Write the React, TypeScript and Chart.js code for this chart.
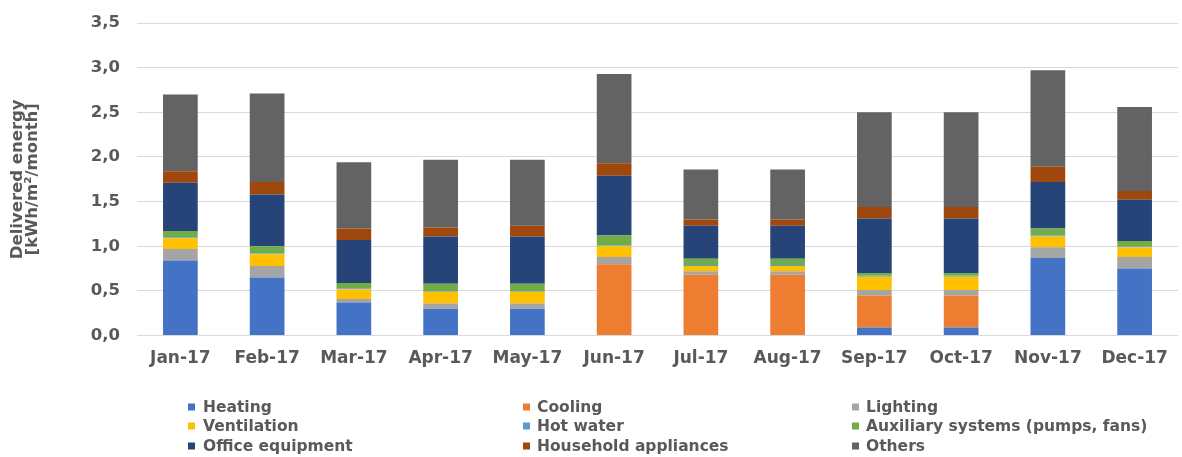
import { useEffect, useRef } from "react";
import { Chart, registerables } from "chart.js";

Chart.register(...registerables);

// Monthly delivered energy per end use, kWh/m²/month
const months = ["Jan-17", "Feb-17", "Mar-17", "Apr-17", "May-17", "Jun-17", "Jul-17", "Aug-17", "Sep-17", "Oct-17", "Nov-17", "Dec-17"];
const heating = [0.84, 0.65, 0.37, 0.3, 0.3, 0, 0, 0, 0.09, 0.09, 0.87, 0.75];
const cooling = [0, 0, 0, 0, 0, 0.8, 0.68, 0.68, 0.36, 0.36, 0, 0];
const lighting = [0.13, 0.13, 0.04, 0.06, 0.06, 0.08, 0.04, 0.04, 0.06, 0.06, 0.12, 0.13];
const ventilation = [0.12, 0.13, 0.11, 0.13, 0.13, 0.12, 0.06, 0.06, 0.15, 0.15, 0.12, 0.11];
const hotWater = [0.01, 0.01, 0.01, 0.01, 0.01, 0.01, 0.01, 0.01, 0.01, 0.01, 0.01, 0.01];
const auxiliarySystems = [0.07, 0.08, 0.06, 0.08, 0.08, 0.11, 0.07, 0.07, 0.03, 0.03, 0.08, 0.06];
const officeEquipment = [0.54, 0.58, 0.48, 0.53, 0.53, 0.67, 0.37, 0.37, 0.61, 0.61, 0.52, 0.46];
const householdAppliances = [0.13, 0.14, 0.13, 0.1, 0.12, 0.14, 0.07, 0.07, 0.13, 0.13, 0.17, 0.1];
const others = [0.86, 0.99, 0.74, 0.76, 0.74, 1.0, 0.56, 0.56, 1.06, 1.06, 1.08, 0.94];

const seriesNames = [
  "Heating",
  "Cooling",
  "Lighting",
  "Ventilation",
  "Hot water",
  "Auxiliary systems (pumps, fans)",
  "Office equipment",
  "Household appliances",
  "Others",
];
const seriesValues = [heating, cooling, lighting, ventilation, hotWater, auxiliarySystems, officeEquipment, householdAppliances, others];
const seriesColors = ["#4472C4", "#ED7D31", "#A5A5A5", "#FFC000", "#5B9BD5", "#70AD47", "#264478", "#9E480E", "#636363"];

const yAxisTitle = ["Delivered energy", "[kWh/m²/month]"];
const yMax = 3.5;
const yStep = 0.5;

const FONT_FAMILY = "'DejaVu Sans', sans-serif";
const TEXT_COLOR = "#595959";

// Legend laid out as a 3-column grid under the plot
const legendColumns = [
  { marker: 188, text: 203 },
  { marker: 523, text: 537 },
  { marker: 852, text: 866 },
];
const legendRows = [407, 426, 446];

const gridLegend = {
  id: "gridLegend",
  afterDraw(chart: Chart) {
    const ctx = chart.ctx;
    ctx.save();
    ctx.font = `bold 15.5px ${FONT_FAMILY}`;
    ctx.textBaseline = "middle";
    ctx.textAlign = "left";
    chart.data.datasets.forEach((ds, i) => {
      const col = legendColumns[i % 3];
      const y = legendRows[Math.floor(i / 3)];
      ctx.fillStyle = ds.backgroundColor as string;
      ctx.fillRect(col.marker, y - 3.5, 7, 7);
      ctx.fillStyle = TEXT_COLOR;
      ctx.fillText(ds.label as string, col.text, y + 0.5);
    });
    ctx.restore();
  },
};

export default function App() {
  const canvasRef = useRef<HTMLCanvasElement | null>(null);

  useEffect(() => {
    document.body.style.margin = "0";
    const canvas = canvasRef.current;
    if (!canvas) return;

    const chart = new Chart(canvas, {
      type: "bar",
      data: {
        labels: months,
        datasets: seriesNames.map((name, i) => ({
          label: name,
          data: seriesValues[i],
          backgroundColor: seriesColors[i],
          borderWidth: 0,
          categoryPercentage: 0.4,
          barPercentage: 1,
        })),
      },
      options: {
        animation: false,
        responsive: true,
        maintainAspectRatio: false,
        layout: { padding: { top: 23, right: 4, bottom: 83, left: 0 } },
        plugins: {
          legend: { display: false },
          tooltip: { enabled: false },
        },
        scales: {
          x: {
            stacked: true,
            grid: { display: false },
            border: { display: false },
            ticks: {
              color: TEXT_COLOR,
              padding: 5,
              font: { family: FONT_FAMILY, size: 17, weight: "bold" },
            },
          },
          y: {
            stacked: true,
            min: 0,
            max: yMax,
            afterFit(scale) {
              scale.width = 137;
              // the layout padding alone sets the plot's top edge
              scale.paddingTop = 0;
              scale.paddingBottom = 0;
            },
            grid: { color: "#D9D9D9", lineWidth: 1, drawTicks: false },
            border: { display: false },
            ticks: {
              stepSize: yStep,
              color: TEXT_COLOR,
              padding: 17,
              font: { family: FONT_FAMILY, size: 16.5, weight: "bold" },
              callback: (v) => Number(v).toFixed(1).replace(".", ","),
            },
            title: {
              display: true,
              text: yAxisTitle,
              color: TEXT_COLOR,
              padding: { top: 10, bottom: 0 },
              font: { family: FONT_FAMILY, size: 16.5, weight: "bold", lineHeight: 0.92 },
            },
          },
        },
      },
      plugins: [gridLegend],
    });

    return () => chart.destroy();
  }, []);

  return (
    <div style={{ position: "relative", width: 1182, height: 457 }}>
      <canvas ref={canvasRef} />
    </div>
  );
}
